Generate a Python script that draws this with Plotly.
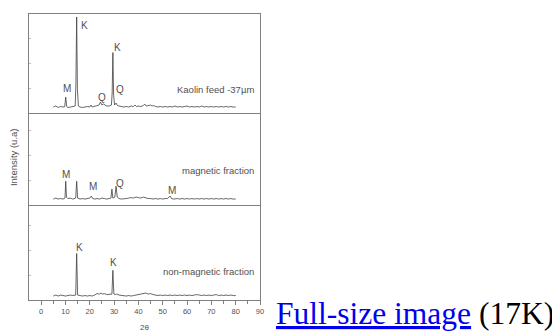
import plotly.graph_objects as go
from plotly.subplots import make_subplots

# ---- data ----
two_theta_kaolin = [5, 6, 7, 8, 9, 9.7, 10.1, 10.5, 11, 12, 13, 14.0, 14.3, 14.6, 14.9, 15.3, 16, 17, 18, 19,
                    20, 20.5, 21, 22, 23, 23.8, 24.4, 25, 25.6, 26.3, 27, 28, 28.9, 29.2, 29.5, 29.8, 30.2, 30.8,
                    31.4, 32, 33, 34, 35, 36, 37, 38, 38.6, 39.2, 40, 41, 42, 42.6, 43.2, 44, 45, 45.6, 46.3, 47,
                    48, 49, 50, 51, 52, 53, 54, 55, 56, 57, 58, 59, 60, 61, 62, 63, 64, 65, 66, 67, 68, 69, 70,
                    71, 72, 73, 74, 75, 76, 77, 78, 79, 80]
intensity_kaolin = [6, 7, 5.5, 6.5, 6, 6.5, 16, 6.5, 5.5, 6, 6.5, 7, 30, 97, 25, 7, 6, 5.5, 6, 6.5,
                    6, 8, 6, 6.5, 7, 8, 11, 8, 9, 7.5, 7, 7, 8, 20, 61, 18, 8, 10,
                    7.5, 7, 6.5, 6, 6.5, 6, 7, 6.5, 8, 6.5, 7, 6.5, 7.5, 9, 7, 7.5, 8, 7, 7.5, 6.5,
                    6, 6.5, 6, 6.5, 6, 6.5, 6, 7, 6, 6.5, 6, 6.5, 7, 6, 6.5, 6, 6.5, 6, 7, 6, 6.5, 6, 6.5,
                    6, 6.5, 6, 6.5, 6, 6.5, 6, 6.5, 6, 6]

two_theta_magnetic = [5, 6, 7, 8, 9, 9.8, 10.1, 10.4, 11, 12, 13, 14.2, 14.6, 15.0, 16, 17, 18, 19, 20, 20.6,
                      21.2, 22, 23, 24, 25, 26, 27, 28, 28.7, 29.1, 29.5, 30.3, 30.8, 31.3, 32, 33, 34, 35,
                      36, 37, 38, 39, 40, 41, 42, 43, 44, 45, 46, 47, 48, 49, 50, 51, 52, 53, 53.6, 54.5,
                      56, 57, 58, 59, 60, 61, 62, 63, 64, 65, 66, 67, 68, 69, 70, 71, 72, 73, 74, 75, 76,
                      77, 78, 79, 80]
intensity_magnetic = [6, 7, 6, 6.5, 6, 7, 24, 8, 6.5, 7, 6, 7, 24, 7, 6, 6.5, 6, 6.5, 7, 9,
                      6.5, 6, 6.5, 6, 7, 6.5, 6, 6.5, 7, 16, 7, 8, 19, 8, 6.5, 6, 6, 6.5,
                      7, 7.5, 7, 8, 7.5, 7, 8, 7, 6.5, 6.5, 6, 6.5, 6, 6.5, 6, 6.5, 6.5, 9, 6.5, 6,
                      6.5, 6, 6.5, 6, 6.5, 6, 6.5, 6, 6.5, 6, 6.5, 6, 6.5, 6, 6.5, 6, 6.5, 6, 6.5, 6, 6.5,
                      6, 6.5, 6, 6]

two_theta_nonmag = [5, 6, 7, 8, 9, 10, 11, 12, 13, 14.2, 14.6, 15.0, 16, 17, 18, 19, 20, 21, 22, 23,
                    24, 24.6, 25.3, 26, 27, 28, 29.1, 29.5, 29.9, 30.5, 31, 32, 33, 34, 35, 36, 37, 38,
                    39, 40, 41, 42, 43, 44, 45, 46, 47, 48, 49, 50, 51, 52, 53, 54, 55, 56, 57, 58, 59,
                    60, 61, 62, 63, 64, 65, 66, 67, 68, 69, 70, 71, 72, 73, 74, 75, 76, 77, 78, 79, 80]
intensity_nonmag = [4, 5, 4, 5, 4.5, 4, 4.5, 5, 4.5, 5, 47, 5, 4.5, 4, 4.5, 4, 4.5, 4, 5, 6.5,
                    6, 7, 6, 6.5, 5.5, 6, 6, 30, 6, 5.5, 6, 5, 4.5, 4.5, 4, 4.5, 4, 4.5,
                    5, 5.5, 6, 6.5, 7, 6, 6.5, 5.5, 5, 4.5, 5, 4.5, 5, 4.5, 5, 4.5, 5, 4.5, 5, 4.5, 5,
                    4.5, 5, 4.5, 5, 5.5, 5, 4.5, 5, 4.5, 5, 4.5, 5, 5.5, 4.5, 5, 4.5, 5, 4.5, 5, 4.5, 4.5]

panel_names = ["Kaolin feed -37µm", "magnetic fraction", "non-magnetic fraction"]
panel_name_pos = [(88.5, 24), (88.5, 35), (88.5, 29)]

peak_labels_kaolin = ["M", "K", "Q", "K", "Q"]
peak_x_kaolin = [10.5, 18.0, 25.0, 31.3, 32.5]
peak_y_kaolin = [25, 88, 16, 66, 24]

peak_labels_magnetic = ["M", "M", "Q", "M"]
peak_x_magnetic = [10.3, 21.4, 32.4, 53.9]
peak_y_magnetic = [31, 19, 22, 15]

peak_labels_nonmag = ["K", "K"]
peak_x_nonmag = [15.6, 29.6]
peak_y_nonmag = [53, 38]

x_tick_vals = [0, 10, 20, 30, 40, 50, 60, 70, 80, 90]
x_minor_vals = [5, 15, 25, 35, 45, 55, 65, 75, 85]
x_axis_title = "2θ"
y_axis_title = "Intensity (u.a)"

# ---- figure ----
fig = make_subplots(rows=3, cols=1, shared_xaxes=True, vertical_spacing=0)

line_col = "#404040"
box_col = "#808080"
txt_col = "#505050"

series = [(two_theta_kaolin, intensity_kaolin), (two_theta_magnetic, intensity_magnetic),
          (two_theta_nonmag, intensity_nonmag)]
for i, (xs, ys) in enumerate(series):
    fig.add_trace(go.Scatter(x=xs, y=ys, mode="lines", line=dict(color=line_col, width=0.8),
                             showlegend=False, hoverinfo="skip"), row=i + 1, col=1)

# panel domains (px heights 100, 93, 96 of 289)
domains = [[189 / 289, 1.0], [96 / 289, 189 / 289], [0.0, 96 / 289]]
ranges = [[0, 100], [0, 93], [0, 96]]
for i in range(3):
    fig.update_yaxes(row=i + 1, col=1, domain=domains[i], range=ranges[i], showticklabels=False,
                     showline=True, mirror=True, linecolor=box_col, linewidth=1, showgrid=False,
                     zeroline=False, ticks="inside", ticklen=2, tickcolor="#c0c0c0", dtick=25, tick0=0)
    fig.update_xaxes(row=i + 1, col=1, range=[-5, 90], showline=True, mirror=(i == 0),
                     linecolor=box_col, linewidth=1, showgrid=False, zeroline=False)

fig.update_xaxes(row=3, col=1, tickvals=x_tick_vals, ticks="outside", ticklen=4, tickcolor=box_col,
                 tickfont=dict(family="Liberation Sans", size=7.5, color=txt_col),
                 minor=dict(tickvals=x_minor_vals, ticks="outside", ticklen=3, tickcolor=box_col),
                 title=dict(text=x_axis_title, font=dict(family="Liberation Sans", size=8, color=txt_col),
                            standoff=9))

anns = []
peak_sets = [(peak_labels_kaolin, peak_x_kaolin, peak_y_kaolin),
             (peak_labels_magnetic, peak_x_magnetic, peak_y_magnetic),
             (peak_labels_nonmag, peak_x_nonmag, peak_y_nonmag)]
for i, (labs, xs, ys) in enumerate(peak_sets):
    xr = "x" if i == 0 else f"x{i + 1}"
    yr = "y" if i == 0 else f"y{i + 1}"
    for lab, xv, yv in zip(labs, xs, ys):
        anns.append(dict(x=xv, y=yv, xref=xr, yref=yr, text=lab, showarrow=False,
                         font=dict(family="Liberation Sans", size=10, color=txt_col)))
    nx, ny = panel_name_pos[i]
    anns.append(dict(x=nx, y=ny, xref=xr, yref=yr, text=panel_names[i], showarrow=False,
                     xanchor="right", font=dict(family="Liberation Sans", size=9.5, color=txt_col)))

anns.append(dict(x=-0.069, y=0.5, xref="paper", yref="paper", xanchor="center", yanchor="middle",
                 text=y_axis_title, textangle=-90, showarrow=False,
                 font=dict(family="Liberation Sans", size=9.5, color=txt_col)))

anns.append(dict(x=245 / 231, y=-0.046, xref="paper", yref="paper", xanchor="left", yanchor="middle",
                 text="<span style='color:#0000EE;text-decoration:underline'>Full-size image</span> (17K)",
                 showarrow=False, font=dict(family="Liberation Serif", size=31.5, color="#000000")))

# the page adds an 8px body margin, so the figure is offset by 8px
fig.update_layout(width=552, height=328, margin=dict(l=21, r=300, t=5, b=34),
                  paper_bgcolor="white", plot_bgcolor="white", annotations=anns)

fig.write_html("out.html")
